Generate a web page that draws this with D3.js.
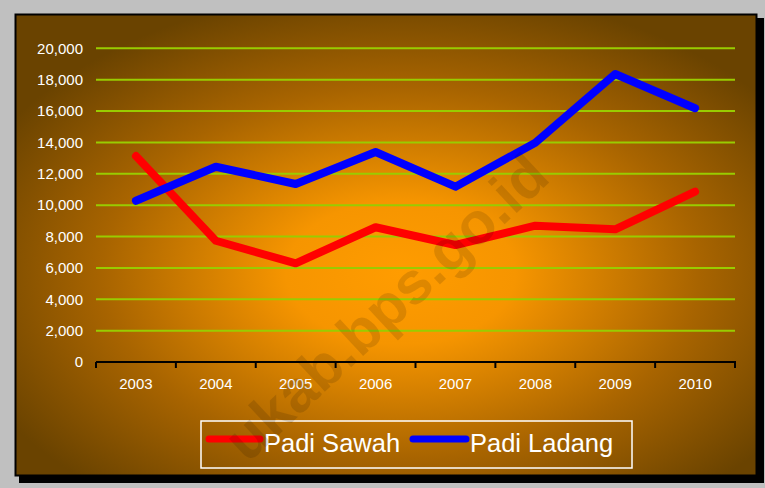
<!DOCTYPE html>
<html>
<head>
<meta charset="utf-8">
<script src="https://cdn.jsdelivr.net/npm/d3@7"></script>
<style>
html,body{margin:0;padding:0;background:#c0c0c0;}
svg{display:block;}
text{font-family:"Liberation Sans",Arial,sans-serif;}
</style>
</head>
<body>
<svg id="chart" width="765" height="488"></svg>
<script>
const years = ["2003","2004","2005","2006","2007","2008","2009","2010"];
const padiSawah = [13130, 7730, 6290, 8590, 7460, 8690, 8460, 10860];
const padiLadang = [10280, 12450, 11350, 13390, 11180, 13980, 18360, 16180];
const yTicks = [0, 2000, 4000, 6000, 8000, 10000, 12000, 14000, 16000, 18000, 20000];
const seriesNames = ["Padi Sawah", "Padi Ladang"];
const seriesColors = ["#ff0000", "#0000ff"];

const svg = d3.select("#chart");
const W = 765, H = 488;
svg.append("rect").attr("width", W).attr("height", H).attr("fill", "#c0c0c0");

const defs = svg.append("defs");
const grad = defs.append("radialGradient").attr("id", "bg")
  .attr("cx", 0.52).attr("cy", 0.56).attr("r", 0.62).attr("fx", 0.52).attr("fy", 0.56);
grad.append("stop").attr("offset", "0%").attr("stop-color", "#ff9c00");
grad.append("stop").attr("offset", "25%").attr("stop-color", "#f69500");
grad.append("stop").attr("offset", "65%").attr("stop-color", "#a86400");
grad.append("stop").attr("offset", "100%").attr("stop-color", "#6a4300");

// shadow + box
svg.append("rect").attr("x", 19).attr("y", 18).attr("width", 745).attr("height", 465).attr("fill", "#000");
svg.append("rect").attr("x", 15.5).attr("y", 14.5).attr("width", 741).attr("height", 461)
  .attr("fill", "url(#bg)").attr("stroke", "#000").attr("stroke-width", 2);

const x = d3.scaleBand().domain(years).range([96, 735]);
const y = d3.scaleLinear().domain([0, 20000]).range([362, 48.3]);

// gridlines
svg.append("g").selectAll("line").data(yTicks.filter(d => d > 0)).join("line")
  .attr("x1", 96).attr("x2", 735)
  .attr("y1", d => y(d)).attr("y2", d => y(d))
  .attr("stroke", "#99cc00").attr("stroke-width", 2);

// y axis labels
const yAxis = d3.axisLeft(y).tickValues(yTicks).tickSize(0).tickPadding(0)
  .tickFormat(d3.format(","));
const gy = svg.append("g").attr("transform", "translate(83,0)").call(yAxis);
gy.select(".domain").remove();
gy.selectAll("text").attr("fill", "#fff").attr("font-size", 15)
  .attr("font-family", "Liberation Sans, Arial, sans-serif");

// x axis
const gx = svg.append("g").attr("transform", "translate(0,362)");
gx.append("line").attr("x1", 96).attr("x2", 736).attr("stroke", "#000").attr("stroke-width", 2);
gx.selectAll(".tk").data(years.concat(["end"])).join("line").attr("class", "tk")
  .attr("x1", (d, i) => i < years.length ? x(d) : 735)
  .attr("x2", (d, i) => i < years.length ? x(d) : 735)
  .attr("y1", 0).attr("y2", 6).attr("stroke", "#000").attr("stroke-width", 2);
gx.selectAll(".lb").data(years).join("text").attr("class", "lb")
  .attr("x", d => x(d) + x.bandwidth() / 2).attr("y", 27)
  .attr("text-anchor", "middle").attr("fill", "#fff").attr("font-size", 15).text(d => d);

// lines
const line = d3.line().x((d, i) => x(years[i]) + x.bandwidth() / 2).y(d => y(d));
[padiSawah, padiLadang].forEach((s, i) => {
  svg.append("path").datum(s).attr("d", line).attr("fill", "none")
    .attr("stroke", seriesColors[i]).attr("stroke-width", 8)
    .attr("stroke-linejoin", "round").attr("stroke-linecap", "round");
});

// legend
const lg = svg.append("g");
lg.append("rect").attr("x", 201).attr("y", 421).attr("width", 431).attr("height", 47)
  .attr("fill", "none").attr("stroke", "#fff").attr("stroke-width", 1.5);
const legX = [[209, 260, 264], [413, 466, 470]];
seriesNames.forEach((n, i) => {
  lg.append("line").attr("x1", legX[i][0]).attr("x2", legX[i][1]).attr("y1", 439).attr("y2", 439)
    .attr("stroke", seriesColors[i]).attr("stroke-width", 7).attr("stroke-linecap", "round");
  lg.append("text").attr("x", legX[i][2]).attr("y", 451.5).attr("fill", "#fff")
    .attr("font-size", 25.5).text(n);
});

// watermark
svg.append("text").attr("transform", "translate(552,180) rotate(-43)")
  .attr("text-anchor", "end").attr("font-size", 59).attr("font-weight", "bold")
  .attr("fill", "#000").attr("fill-opacity", 0.12).text("ukab.bps.go.id");
</script>
</body>
</html>
